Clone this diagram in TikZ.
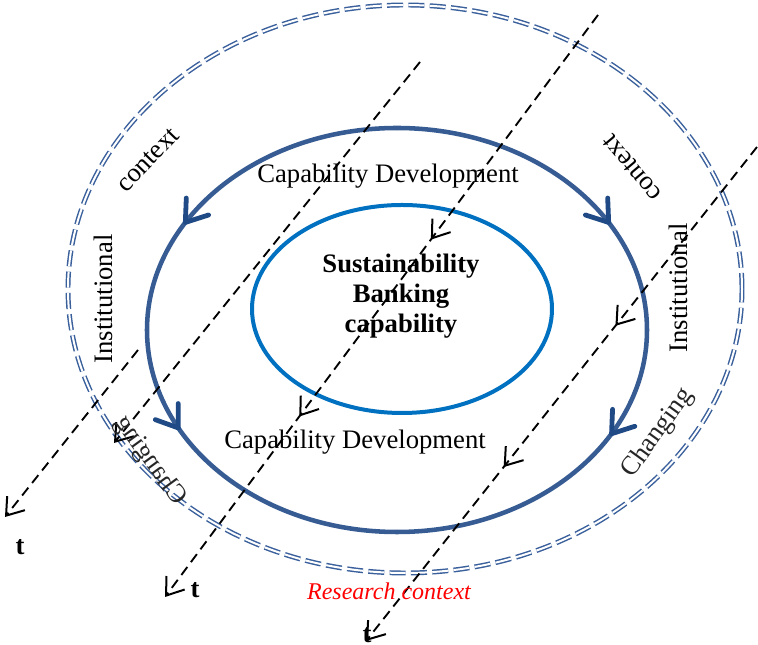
\documentclass[tikz,border=0pt]{standalone}
\usepackage{fontspec}
\setmainfont{Liberation Serif}
\usetikzlibrary{arrows.meta,decorations.markings}
\definecolor{ctxblue}{HTML}{3A609C}
\definecolor{capblue}{HTML}{375C93}
\definecolor{headblue}{HTML}{1F4A85}
\definecolor{coreblue}{HTML}{0070C0}

\begin{document}
\begin{tikzpicture}[x=0.75pt,y=0.75pt,
  ctxring/.style={ctxblue, line width=1.1pt, double=white, double distance=1.5pt, dash pattern=on 12pt off 4pt},
  capring/.style={capblue, line width=3.4pt},
  corering/.style={coreblue, line width=3pt},
  captip/.style 2 args={postaction={decorate}, decoration={markings,
      mark=at position #1 with {\arrow[headblue]{Straight Barb[length=15pt,width=21pt,line width=3.6pt,round]}},
      mark=at position #2 with {\arrow[headblue]{Straight Barb[length=15pt,width=21pt,line width=3.6pt,round]}}}},
  timeline/.style={black, line width=1.4pt, dash pattern=on 7.5pt off 4.5pt, -{Straight Barb[length=12pt,width=17pt,line width=1.5pt]}},
  timetip/.style 2 args={postaction={decorate}, decoration={markings,
      mark=at position #1 with {\arrow{Straight Barb[length=12pt,width=17pt,line width=1.5pt]}},
      mark=at position #2 with {\arrow{Straight Barb[length=12pt,width=17pt,line width=1.5pt]}}}},
  label/.style={font=\fontsize{20}{22.5}\selectfont},
  arclabel/.style={font=\fontsize{20}{22.5}\selectfont, black!85}]
\useasboundingbox (0,0) rectangle (758,645);

% rings
\draw[ctxring] (405,356) ellipse[x radius=337, y radius=284];
\draw[corering] (402,336) ellipse[x radius=150, y radius=104];
\draw[capring, captip={0.34}{0.65}] (397,517) arc[start angle=90, end angle=270, x radius=250, y radius=202];
\draw[capring, captip={0.34}{0.66}] (397,517) arc[start angle=90, end angle=-90, x radius=250, y radius=202];

% time lines
\coordinate (a1) at (420,583);
\coordinate (a2) at (114,202);
\coordinate (b1) at (138,295);
\coordinate (b2) at (5,128);
\coordinate (c1) at (598,630);
\coordinate (c2) at (165,48);
\coordinate (d1) at (757,498);
\coordinate (d2) at (366,4);
\draw[timeline] (a1) -- (a2);
\draw[timeline] (b1) -- (b2);
\draw[timeline, timetip={0.386}{0.69}] (c1) -- (c2);
\draw[timeline, timetip={0.362}{0.648}] (d1) -- (d2);

% texts
\node[label] (dev1) at (388,469) {Capability Development};
\node[label] (dev2) at (355,203) {Capability Development};
\node[label, font=\fontsize{20}{22.5}\selectfont\bfseries, align=center] (core) at (401,349) {Sustainability\\Banking\\capability};
\node[label, rotate=46] (ctxl) at (148,485) {context};
\node[label, rotate=90] (instl) at (103,346) {Institutional};
\node[arclabel, rotate=126, yscale=-1] (chgl) at (150,184) {Changing};
\node[label, rotate=130] (ctxr) at (632,477) {context};
\node[label, rotate=90] (instr) at (678,357) {Institutional};
\node[arclabel, rotate=54] (chgr) at (658,212) {Changing};
\node[red, font=\fontsize{18}{20}\selectfont\itshape] (research) at (389,54) {Research context};
\node[label, font=\fontsize{20}{22.5}\selectfont\bfseries] (t1) at (20,98) {t};
\node[label, font=\fontsize{20}{22.5}\selectfont\bfseries] (t2) at (195,55) {t};
\node[label, font=\fontsize{20}{22.5}\selectfont\bfseries] (t3) at (367,10) {t};
\end{tikzpicture}
\end{document}
